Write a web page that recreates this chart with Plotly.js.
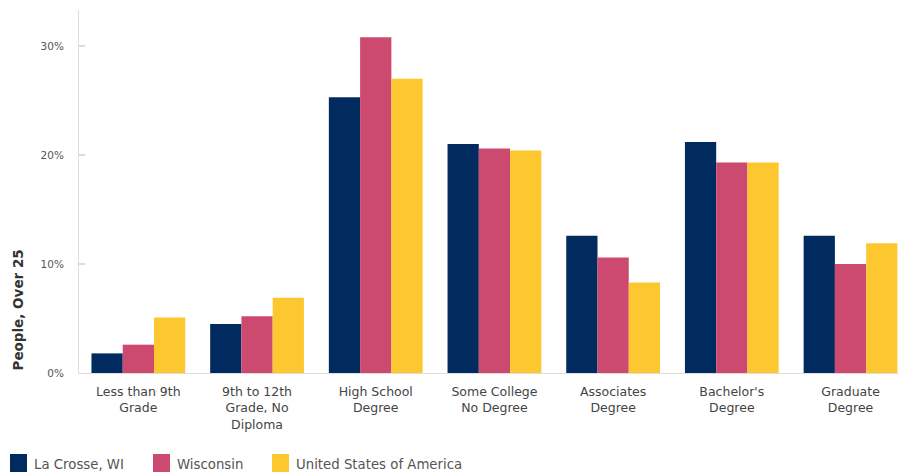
<!DOCTYPE html>
<html>
<head>
<meta charset="utf-8">
<script src="https://cdn.plot.ly/plotly-3.0.1.min.js"></script>
<style>html,body{margin:0;padding:0;background:#fff;overflow:hidden}#chart{width:898px;height:472px}</style>
</head>
<body>
<div id="chart"></div>
<script>
const categories = [
  "Less than 9th<br>Grade",
  "9th to 12th<br>Grade, No<br>Diploma",
  "High School<br>Degree",
  "Some College<br>No Degree",
  "Associates<br>Degree",
  "Bachelor's<br>Degree",
  "Graduate<br>Degree"
];
const laCrosse = [1.8, 4.5, 25.3, 21.0, 12.6, 21.2, 12.6];
const wisconsin = [2.6, 5.2, 30.8, 20.6, 10.6, 19.3, 10.0];
const usa = [5.1, 6.9, 27.0, 20.4, 8.3, 19.3, 11.9];
const seriesNames = ["La Crosse, WI", "Wisconsin", "United States of America"];
const yTicks = [0, 10, 20, 30];
const yTickText = ["0%", "10%", "20%", "30%"];

const colors = ["#012B5E", "#CC4A70", "#FDC72F"];
const font = "'DejaVu Sans', Verdana, sans-serif";

const W = 898, H = 472, ML = 79, MT = 10, MB = 99;
const PW = W - ML, PH = H - MT - MB;
const px = x => (x - ML) / PW;
const py = y => (H - MB - y) / PH;

const traces = [laCrosse, wisconsin, usa].map((vals, i) => ({
  type: "bar",
  name: seriesNames[i],
  x: categories,
  y: vals,
  marker: {color: colors[i], line: {width: 0}},
  hoverinfo: "skip",
  showlegend: false
}));

// manual legend (swatch + text)
const legendX = [10, 153, 272];
const shapes = legendX.map((lx, i) => ({
  type: "rect", xref: "paper", yref: "paper",
  x0: px(lx), x1: px(lx + 17), y0: py(472), y1: py(454),
  fillcolor: colors[i], line: {width: 0}
}));
const legendAnn = legendX.map((lx, i) => ({
  text: seriesNames[i], xref: "paper", yref: "paper",
  x: px(lx + 22), y: py(464), xanchor: "left", yanchor: "middle",
  showarrow: false, font: {size: 13.3, color: "#555", family: font}
}));

const layout = {
  width: W, height: H,
  margin: {l: ML, r: 0, t: MT, b: MB},
  paper_bgcolor: "#fff", plot_bgcolor: "#fff",
  barmode: "group",
  bargap: 0.21,
  bargroupgap: 0,
  font: {family: font, color: "#444", size: 11},
  xaxis: {
    type: "category",
    range: [-0.5, 6.4],
    showgrid: false,
    zeroline: false,
    showline: true,
    linecolor: "#ddd",
    linewidth: 1,
    ticks: "",
    ticklabelstandoff: 7,
    tickfont: {size: 12.5, color: "#444", family: font},
    fixedrange: true
  },
  yaxis: {
    range: [0, 33.3],
    tickvals: yTicks,
    ticktext: yTickText,
    showgrid: false,
    zeroline: false,
    showline: true,
    linecolor: "#ddd",
    linewidth: 1,
    ticks: "inside",
    ticklen: 6,
    tickcolor: "#ddd",
    tickwidth: 2,
    ticklabelstandoff: 12,
    tickfont: {size: 10.5, color: "#555", family: font},
    fixedrange: true
  },
  showlegend: false,
  shapes: shapes,
  annotations: [{
    text: "<b>People, Over 25</b>",
    xref: "paper", yref: "paper",
    x: px(17), y: 0,
    xanchor: "center", yanchor: "bottom",
    textangle: -90,
    showarrow: false,
    font: {size: 13.5, color: "#333", family: font}
  }].concat(legendAnn)
};

Plotly.newPlot("chart", traces, layout, {staticPlot: true, displayModeBar: false});
</script>
</body>
</html>
